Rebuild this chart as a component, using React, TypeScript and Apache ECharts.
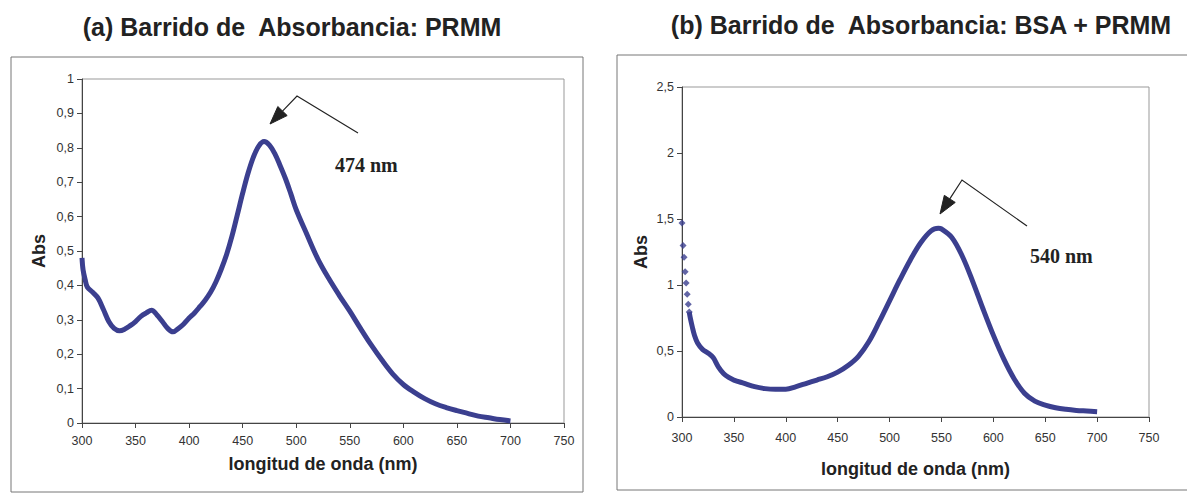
import React, { useEffect, useRef } from "react";
import * as echarts from "echarts";

// ---- Data ----
const titleA = "(a) Barrido de  Absorbancia: PRMM";
const titleB = "(b) Barrido de  Absorbancia: BSA + PRMM";
const xAxisName = "longitud de onda (nm)";
const yAxisName = "Abs";
const peakLabelA = "474 nm";
const peakLabelB = "540 nm";

// Chart (a): PRMM
const wavelengthA = [
  300, 301, 303, 305, 310, 315, 320, 325, 330, 335, 340, 345, 350, 355, 360, 365, 370, 375, 380, 385,
  390, 395, 400, 405, 410, 415, 420, 425, 430, 435, 440, 445, 450, 455, 460, 465, 470, 475, 480, 485,
  490, 495, 500, 510, 520, 530, 540, 550, 560, 570, 580, 590, 600, 610, 620, 630, 640, 650, 660, 670,
  680, 690, 700,
];
const absA = [
  0.48, 0.445, 0.416, 0.395, 0.38, 0.363, 0.33, 0.295, 0.275, 0.268, 0.273, 0.283, 0.295, 0.31, 0.32, 0.328, 0.314, 0.295, 0.275, 0.265,
  0.275, 0.288, 0.305, 0.32, 0.338, 0.357, 0.38, 0.41, 0.447, 0.49, 0.543, 0.605, 0.668, 0.726, 0.773, 0.805, 0.818, 0.808, 0.783, 0.748,
  0.71, 0.666, 0.62, 0.548, 0.478, 0.422, 0.372, 0.325, 0.275, 0.227, 0.183, 0.143, 0.112, 0.09, 0.071, 0.056, 0.045, 0.036, 0.028, 0.02,
  0.015, 0.01, 0.006,
];

// Chart (b): BSA + PRMM — the steep separate points at the start
const wavelengthBDots = [300, 301, 302, 303, 304, 305, 306, 307];
const absBDots = [1.47, 1.3, 1.21, 1.1, 1.015, 0.93, 0.855, 0.795];
// ...and the dense continuous part
const wavelengthB = [
  307, 308, 310, 312, 315, 320, 325, 330, 335, 340, 345, 350, 360, 370, 380, 390, 400, 410, 420, 430,
  440, 450, 460, 470, 480, 490, 500, 510, 520, 530, 540, 547, 550, 560, 570, 580, 590, 600, 610, 620,
  630, 640, 650, 660, 670, 680, 690, 700,
];
const absB = [
  0.795, 0.75, 0.68, 0.62, 0.56, 0.51, 0.485, 0.45, 0.38, 0.33, 0.3, 0.28, 0.255, 0.23, 0.215, 0.21, 0.21, 0.23, 0.255, 0.28,
  0.305, 0.34, 0.39, 0.46, 0.57, 0.72, 0.88, 1.04, 1.19, 1.32, 1.41, 1.43, 1.425, 1.36, 1.22, 1.03, 0.82, 0.62, 0.44, 0.29,
  0.18, 0.12, 0.09, 0.07, 0.058, 0.05, 0.045, 0.04,
];

const xMin = 300;
const xMax = 750;
const xStep = 50;
const yMaxA = 1;
const yStepA = 0.1;
const yMaxB = 2.5;
const yStepB = 0.5;

const SERIES_COLOR = "#3b3f8f";
const FONT = '"Liberation Sans", Arial, sans-serif';

function pairs(xs: number[], ys: number[]) {
  return xs.map((x, i) => [x, ys[i]]);
}

function fmtComma(v: number) {
  const r = Math.round(v * 10) / 10;
  return String(r).replace(".", ",");
}

function arrow(end: number[], elbow: number[], tip: number[]) {
  const dx = tip[0] - elbow[0];
  const dy = tip[1] - elbow[1];
  const len = Math.sqrt(dx * dx + dy * dy);
  const ux = dx / len;
  const uy = dy / len;
  const headLen = 18;
  const half = 6.5;
  const bx = tip[0] - ux * headLen;
  const by = tip[1] - uy * headLen;
  const nx = -uy;
  const ny = ux;
  return [
    {
      type: "polyline",
      shape: { points: [end, elbow, [bx, by]] },
      style: { stroke: "#222", lineWidth: 1.2, fill: "none" },
    },
    {
      type: "polygon",
      shape: {
        points: [tip, [bx + nx * half, by + ny * half], [bx - nx * half, by - ny * half]],
      },
      style: { fill: "#222", stroke: "#222", lineWidth: 1 },
    },
  ];
}

function xAxisCfg(gridIndex: number, nameGap: number, margin: number) {
  return {
    gridIndex,
    type: "value",
    min: xMin,
    max: xMax,
    interval: xStep,
    axisLine: { show: true, onZero: false, lineStyle: { color: "#444", width: 1 } },
    axisTick: { show: true, length: 5, lineStyle: { color: "#444" } },
    axisLabel: { color: "#333", fontSize: 12.5, fontFamily: FONT, margin },
    splitLine: { show: false },
    name: xAxisName,
    nameLocation: "middle",
    nameGap,
    nameTextStyle: { color: "#222", fontSize: 18, fontWeight: "bold", fontFamily: FONT },
  };
}

function yAxisCfg(gridIndex: number, max: number, interval: number, nameGap: number) {
  return {
    gridIndex,
    type: "value",
    min: 0,
    max,
    interval,
    axisLine: { show: true, lineStyle: { color: "#444", width: 1 } },
    axisTick: { show: true, length: 5, lineStyle: { color: "#444" } },
    axisLabel: { color: "#333", fontSize: 12.5, fontFamily: FONT, margin: 8, formatter: fmtComma },
    splitLine: { show: false },
    name: yAxisName,
    nameLocation: "middle",
    nameRotate: 90,
    nameGap,
    nameTextStyle: { color: "#222", fontSize: 18, fontWeight: "bold", fontFamily: FONT },
  };
}

export default function App() {
  const ref = useRef<HTMLDivElement>(null);

  useEffect(() => {
    if (!ref.current) return;
    const chart = echarts.init(ref.current, undefined, { renderer: "svg" });
    const option: any = {
      animation: false,
      backgroundColor: "#ffffff",
      grid: [
        { left: 82, top: 79, width: 482, height: 344, show: true, borderColor: "#999", borderWidth: 1, backgroundColor: "transparent" },
        { left: 682, top: 87, width: 467, height: 330, show: true, borderColor: "#999", borderWidth: 1, backgroundColor: "transparent" },
      ],
      xAxis: [xAxisCfg(0, 32, 11), xAxisCfg(1, 43, 14)],
      yAxis: [yAxisCfg(0, yMaxA, yStepA, 34), yAxisCfg(1, yMaxB, yStepB, 32)],
      series: [
        {
          type: "line",
          xAxisIndex: 0,
          yAxisIndex: 0,
          data: pairs(wavelengthA, absA),
          smooth: 0.35,
          showSymbol: false,
          symbol: "none",
          lineStyle: { color: SERIES_COLOR, width: 5 },
          z: 3,
        },
        {
          type: "scatter",
          xAxisIndex: 1,
          yAxisIndex: 1,
          data: pairs(wavelengthBDots, absBDots),
          symbol: "diamond",
          symbolSize: 7,
          itemStyle: { color: SERIES_COLOR },
          z: 3,
        },
        {
          type: "line",
          xAxisIndex: 1,
          yAxisIndex: 1,
          data: pairs(wavelengthB, absB),
          smooth: 0.35,
          showSymbol: false,
          symbol: "none",
          lineStyle: { color: SERIES_COLOR, width: 5 },
          z: 3,
        },
      ],
      graphic: [
        {
          type: "rect",
          shape: { x: 11, y: 57, width: 572, height: 435 },
          style: { fill: "none", stroke: "#777", lineWidth: 1 },
          silent: true,
        },
        {
          type: "rect",
          shape: { x: 617, y: 55, width: 580, height: 435 },
          style: { fill: "none", stroke: "#777", lineWidth: 1 },
          silent: true,
        },
        {
          type: "text",
          x: 292,
          y: 27,
          style: {
            text: titleA,
            textAlign: "center",
            textVerticalAlign: "middle",
            font: `bold 25px ${FONT}`,
            fill: "#222",
          },
        },
        {
          type: "text",
          x: 921,
          y: 25,
          style: {
            text: titleB,
            textAlign: "center",
            textVerticalAlign: "middle",
            font: `bold 25px ${FONT}`,
            fill: "#222",
          },
        },
        {
          type: "text",
          x: 335,
          y: 165,
          style: {
            text: peakLabelA,
            textAlign: "left",
            textVerticalAlign: "middle",
            font: 'bold 20px "Liberation Serif", "Times New Roman", serif',
            fill: "#222",
          },
        },
        {
          type: "text",
          x: 1030,
          y: 256,
          style: {
            text: peakLabelB,
            textAlign: "left",
            textVerticalAlign: "middle",
            font: 'bold 20px "Liberation Serif", "Times New Roman", serif',
            fill: "#222",
          },
        },
        ...arrow([358, 133], [297, 96], [270, 124]),
        ...arrow([1027, 226], [962, 180], [940, 214]),
      ],
    };
    chart.setOption(option);
    return () => chart.dispose();
  }, []);

  return (
    <div
      ref={ref}
      style={{ position: "fixed", left: 0, top: 0, width: 1187, height: 493, background: "#fff" }}
    />
  );
}
